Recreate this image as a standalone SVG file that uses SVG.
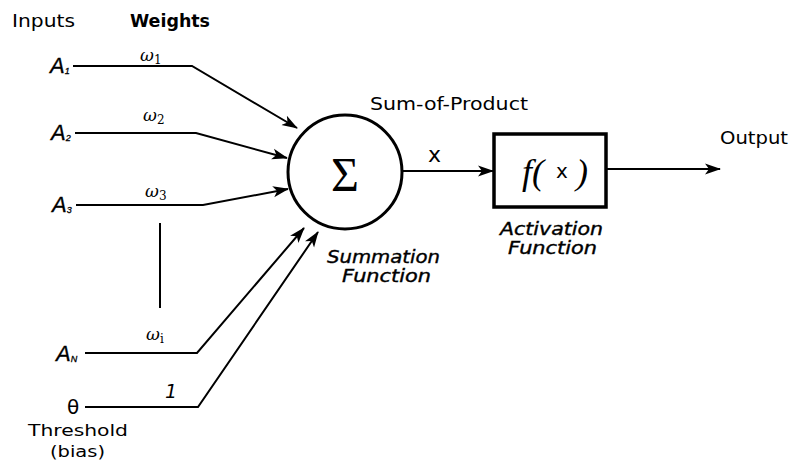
<svg xmlns="http://www.w3.org/2000/svg" width="790" height="464" viewBox="0 0 790 464">
<defs>
<marker id="arr" markerUnits="userSpaceOnUse" markerWidth="18" markerHeight="12" refX="15" refY="6" orient="auto">
<path d="M0,0.5 L16,6 L0,11.5 L4,6 z" fill="#000"/>
</marker>
<style>
.sans{font-family:"DejaVu Sans","Liberation Sans",Arial,sans-serif;fill:#000}
.hdr{font-size:18px}
.small{font-size:16px}
.lbl{font-size:18px;font-style:italic;stroke:#000;stroke-width:0.4}
.ain{font-family:"Liberation Sans",Arial,sans-serif;font-style:italic;font-size:22px;stroke:#000;stroke-width:0.3}
.sub{font-size:9px}
.w{font-family:"DejaVu Serif","Liberation Serif",serif;font-size:17px}
.ln{fill:none;stroke:#000;stroke-width:2}
</style>
</defs>
<rect width="790" height="464" fill="#fff"/>
<g id="headers">
<text class="sans hdr" x="12" y="27" textLength="63" lengthAdjust="spacingAndGlyphs">Inputs</text>
<text class="sans hdr" x="130" y="27" font-weight="bold" textLength="80" lengthAdjust="spacingAndGlyphs">Weights</text>
</g>
<g id="inputs">
<text class="ain" x="50" y="73">A<tspan class="sub" dy="1">1</tspan></text>
<text class="ain" x="51" y="140">A<tspan class="sub" dy="1">2</tspan></text>
<text class="ain" x="52" y="212">A<tspan class="sub" dy="1">3</tspan></text>
<text class="ain" x="56" y="361">A<tspan class="sub" dy="1">N</tspan></text>
<text class="sans" x="67" y="414" font-size="20">θ</text>
<text class="sans small" x="28" y="436" textLength="100" lengthAdjust="spacingAndGlyphs">Threshold</text>
<text class="sans small" x="50" y="457" textLength="55" lengthAdjust="spacingAndGlyphs">(bias)</text>
</g>
<g id="weights">
<text class="w" x="140" y="61"><tspan font-style="italic">ω</tspan><tspan font-size="12" dy="3">1</tspan></text>
<text class="w" x="143" y="121"><tspan font-style="italic">ω</tspan><tspan font-size="12" dy="3">2</tspan></text>
<text class="w" x="145" y="197"><tspan font-style="italic">ω</tspan><tspan font-size="12" dy="3">3</tspan></text>
<text class="w" x="146" y="340"><tspan font-style="italic">ω</tspan><tspan font-size="12" dy="3">i</tspan></text>
<text class="sans" x="165" y="398" font-size="19" font-style="italic">1</text>
</g>
<g id="connectors">
<polyline class="ln" points="73,66 192,66 297,128" marker-end="url(#arr)"/>
<polyline class="ln" points="75,133 196,133 287,158" marker-end="url(#arr)"/>
<polyline class="ln" points="76,205 203,205 288,189" marker-end="url(#arr)"/>
<line class="ln" x1="160" y1="223" x2="160" y2="308"/>
<polyline class="ln" points="85,353 197,353 304,228" marker-end="url(#arr)"/>
<polyline class="ln" points="85,407 198,407 318,232" marker-end="url(#arr)"/>
<line class="ln" x1="402" y1="171" x2="493" y2="171" marker-end="url(#arr)"/>
<line class="ln" x1="607" y1="169" x2="720" y2="169" marker-end="url(#arr)"/>
</g>
<g id="summation">
<circle cx="345" cy="172" r="57" fill="#fff" stroke="#000" stroke-width="3"/>
<text x="345" y="191" text-anchor="middle" font-family="'Liberation Serif','DejaVu Serif',serif" font-size="48">Σ</text>
<text class="sans hdr" x="370" y="110" textLength="158" lengthAdjust="spacingAndGlyphs">Sum-of-Product</text>
<text class="sans lbl" x="327" y="263" textLength="113" lengthAdjust="spacingAndGlyphs">Summation</text>
<text class="sans lbl" x="342" y="282" textLength="89" lengthAdjust="spacingAndGlyphs">Function</text>
</g>
<g id="x-label">
<text class="sans" x="428" y="162" font-size="22">x</text>
</g>
<g id="activation">
<rect x="494" y="134" width="112" height="73" fill="#fff" stroke="#000" stroke-width="3.5"/>
<text x="522" y="184" font-family="'Liberation Serif','DejaVu Serif',serif" font-size="36" font-style="italic">f(</text>
<text class="sans" x="556" y="178" font-size="20">x</text>
<text x="576" y="184" font-family="'Liberation Serif','DejaVu Serif',serif" font-size="36" font-style="italic">)</text>
<text class="sans lbl" x="500" y="235" textLength="103" lengthAdjust="spacingAndGlyphs">Activation</text>
<text class="sans lbl" x="508" y="254" textLength="89" lengthAdjust="spacingAndGlyphs">Function</text>
</g>
<g id="output">
<text class="sans hdr" x="720" y="144" textLength="68" lengthAdjust="spacingAndGlyphs">Output</text>
</g>
</svg>
